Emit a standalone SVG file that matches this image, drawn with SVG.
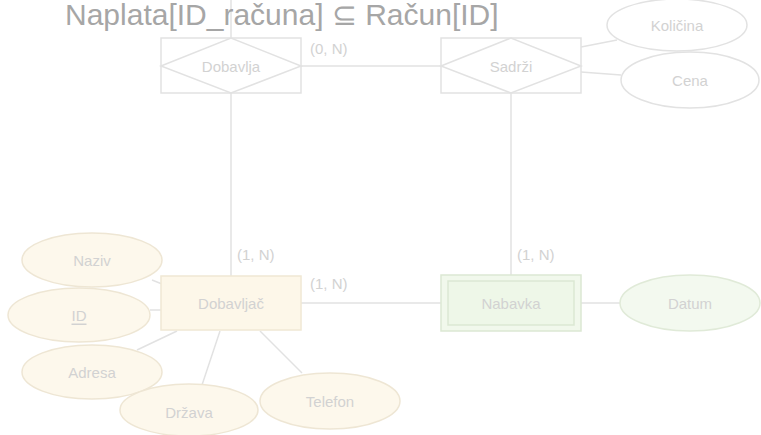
<svg xmlns="http://www.w3.org/2000/svg" width="761" height="435" viewBox="0 0 761 435">
<style>
.ln{stroke:#e2e2e2;stroke-width:1.5;fill:none}
.rel{fill:#ffffff;stroke:#e2e2e2;stroke-width:1.5}
.t{font-family:"Liberation Sans",Arial,sans-serif;font-size:15px;fill:#d2d2d2;text-anchor:middle;dominant-baseline:central}
.card{font-family:"Liberation Sans",Arial,sans-serif;font-size:15px;fill:#d2d2d2}
.ay{fill:#fdf8ec;stroke:#eee6d4;stroke-width:1.5}
.ag{fill:#f3f9ef;stroke:#e0ead8;stroke-width:1.5}
.aw{fill:#ffffff;stroke:#e2e2e2;stroke-width:1.5}
</style>
<rect width="761" height="435" fill="#ffffff"/>
<g id="connectors">
<line class="ln" x1="231" y1="0" x2="231" y2="38"/>
<line class="ln" x1="301" y1="66" x2="441" y2="66"/>
<line class="ln" x1="231" y1="93" x2="231" y2="276"/>
<line class="ln" x1="511" y1="93" x2="511" y2="275"/>
<line class="ln" x1="301" y1="303" x2="441" y2="303"/>
<line class="ln" x1="581" y1="303" x2="620" y2="303"/>
<line class="ln" x1="581" y1="47" x2="617" y2="40"/>
<line class="ln" x1="581" y1="72" x2="621" y2="75"/>
<line class="ln" x1="152" y1="280" x2="162" y2="284"/>
<line class="ln" x1="150" y1="310" x2="162" y2="310"/>
<line class="ln" x1="137" y1="350" x2="177" y2="331"/>
<line class="ln" x1="202" y1="385" x2="220" y2="331"/>
<line class="ln" x1="260" y1="331" x2="302" y2="373"/>
<text class="card" x="310" y="54">(0, N)</text>
<text class="card" x="237" y="260">(1, N)</text>
<text class="card" x="517" y="260">(1, N)</text>
<text class="card" x="310" y="289">(1, N)</text>
</g>
<text x="65" y="25" font-family="Liberation Sans,Arial,sans-serif" font-size="30" fill="#a6a6a6">Naplata[ID_računa] ⊆ Račun[ID]</text>
<g id="dobavlja">
<rect class="rel" x="161" y="38" width="140" height="55"/>
<polygon class="rel" points="161,66 231,38 301,66 231,93"/>
<text class="t" x="231" y="66">Dobavlja</text>
</g>
<g id="sadrzi">
<rect class="rel" x="441" y="38" width="140" height="55"/>
<polygon class="rel" points="441,66 511,38 581,66 511,93"/>
<text class="t" x="511" y="66">Sadrži</text>
</g>
<g id="kolicina">
<ellipse class="aw" cx="677" cy="25" rx="70" ry="26"/>
<text class="t" x="677" y="25">Količina</text>
</g>
<g id="cena">
<ellipse class="aw" cx="690" cy="80" rx="69" ry="28"/>
<text class="t" x="690" y="80">Cena</text>
</g>
<g id="dobavljac">
<rect x="161" y="276" width="140" height="54" fill="#fdf7e9" stroke="#f0e8d4" stroke-width="1.5"/>
<text class="t" x="231" y="303">Dobavljač</text>
</g>
<g id="nabavka">
<rect x="441" y="275" width="140" height="56" fill="#f1f8ec" stroke="#dbe8d3" stroke-width="1.5"/>
<rect x="448" y="281" width="126" height="44" fill="#eef7e8" stroke="#dbe8d3" stroke-width="1.5"/>
<text class="t" x="511" y="303">Nabavka</text>
</g>
<g id="datum">
<ellipse class="ag" cx="690" cy="303" rx="70" ry="28"/>
<text class="t" x="690" y="303">Datum</text>
</g>
<g id="naziv">
<ellipse class="ay" cx="92" cy="260" rx="70" ry="27"/>
<text class="t" x="92" y="260">Naziv</text>
</g>
<g id="id">
<ellipse class="ay" cx="79" cy="315" rx="71" ry="27"/>
<text class="t" x="79" y="315" text-decoration="underline">ID</text>
</g>
<g id="adresa">
<ellipse class="ay" cx="92" cy="372" rx="70" ry="27"/>
<text class="t" x="92" y="372">Adresa</text>
</g>
<g id="drzava">
<ellipse class="ay" cx="189" cy="410" rx="69" ry="26"/>
<text class="t" x="189" y="412">Država</text>
</g>
<g id="telefon">
<ellipse class="ay" cx="330" cy="401" rx="70" ry="28"/>
<text class="t" x="330" y="401">Telefon</text>
</g>
</svg>
